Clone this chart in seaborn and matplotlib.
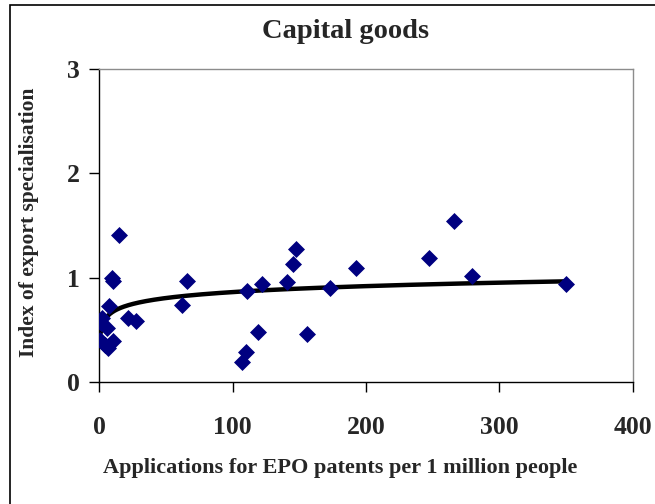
import numpy as np
import pandas as pd
import seaborn as sns
import matplotlib.pyplot as plt
from matplotlib.patches import Rectangle

# ------------------- Data -------------------------------------------

patents = [14.7, 9.2, 10.0, 7.2, 1.7, 1.0, 5.5, 0.8, 6.7, 10.4, 4.2,
           21.7, 27.5, 61.7, 65.5, 110.5, 119.0, 109.8, 106.7, 121.7,
           140.5, 145.3, 147.7, 173.0, 156.0, 192.5, 247.5, 266.0,
           279.7, 349.8]
export_index = [1.41, 1.00, 0.97, 0.73, 0.61, 0.57, 0.52, 0.40, 0.33,
                0.39, 0.36, 0.61, 0.59, 0.74, 0.97, 0.87, 0.48, 0.29,
                0.19, 0.94, 0.96, 1.13, 1.27, 0.90, 0.46, 1.09, 1.19,
                1.54, 1.02, 0.94]

# logarithmic trendline y = slope * ln(x) + intercept
trend_slope = 0.082
trend_intercept = 0.485

x_ticks = [0, 100, 200, 300, 400]
y_ticks = [0, 1, 2, 3]

title = 'Capital goods'
x_label = 'Applications for EPO patents per 1 million people'
y_label = 'Index of export specialisation'

df = pd.DataFrame({'patents': patents, 'index': export_index})

trend_x = np.linspace(df['patents'].min(), df['patents'].max(), 400)
trend = pd.DataFrame({'patents': trend_x,
                      'index': trend_slope * np.log(trend_x) + trend_intercept})

# ------------------- Plot --------------------

sns.set_style('white')
plt.rcParams['font.family'] = ['Liberation Serif', 'DejaVu Serif']
plt.rcParams['font.weight'] = 'bold'

fig = plt.figure(figsize=(6.55, 5.04), dpi=100)
ax = fig.add_axes([0.1518, 0.2415, 0.8142, 0.6225])

sns.lineplot(data=trend, x='patents', y='index', color='black', linewidth=3.2,
             ax=ax, zorder=2)
sns.scatterplot(data=df, x='patents', y='index', marker='D', s=75,
                color='#000080', edgecolor='#000080', linewidth=0, ax=ax, zorder=3)

ax.set_xlim(0, 400)
ax.set_ylim(0, 3)
ax.set_xticks(x_ticks)
ax.set_yticks(y_ticks)
ax.tick_params(axis='both', direction='out', length=7, width=1, color='black',
               labelsize=18.5, left=True, bottom=True)
ax.tick_params(axis='y', pad=7)
ax.tick_params(axis='x', pad=17)
for lab in ax.get_xticklabels() + ax.get_yticklabels():
    lab.set_fontweight('bold')

ax.spines['left'].set_color('black')
ax.spines['bottom'].set_color('black')
ax.spines['top'].set_color('#8c8c8c')
ax.spines['right'].set_color('#8c8c8c')
for sp in ax.spines.values():
    sp.set_linewidth(1)

ax.set_xlabel('')
ax.set_ylabel('')
fig.text(0.527, 0.938, title, ha='center', va='center', fontsize=20.5, fontweight='bold')
fig.text(0.519, 0.071, x_label, ha='center', va='center', fontsize=16, fontweight='bold')
fig.text(0.045, 0.56, y_label, ha='center', va='center', rotation=90,
         fontsize=15.5, fontweight='bold')

# chart area border, running off the right and bottom edges
fig.patches.append(Rectangle((10 / 655, -0.1), 1.2, 1.1 - 5 / 504, transform=fig.transFigure,
                             fill=False, edgecolor='black', linewidth=1.2))

fig.savefig('out.png', dpi=100)
